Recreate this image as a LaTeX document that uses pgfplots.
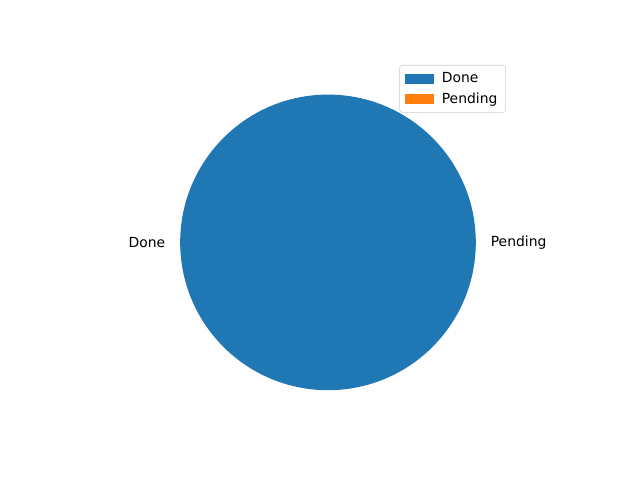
\documentclass[border=0pt]{standalone}
\usepackage{pgfplots}
\pgfplotsset{compat=1.18}
\usepackage{pgfplotstable}
\usepackage{fontspec}
\setmainfont{DejaVu Sans}
\definecolor{tabblue}{HTML}{1F77B4}
\definecolor{taborange}{HTML}{FF7F0E}
\definecolor{legframe}{HTML}{CCCCCC}

\pgfplotstableread{
label value
Done 100
Pending 0
}\piedata
% compute wedge angles from the data
\pgfplotstablegetelem{0}{value}\of\piedata\pgfmathsetmacro{\vA}{\pgfplotsretval}%
\pgfplotstablegetelem{1}{value}\of\piedata\pgfmathsetmacro{\vB}{\pgfplotsretval}%
\pgfmathsetmacro{\tot}{\vA+\vB}%
\pgfmathsetmacro{\fracA}{\vA/\tot}%
\pgfmathsetmacro{\angA}{360*\fracA}%

\begin{document}
\begin{tikzpicture}[font=\fontsize{10}{12}\selectfont]
\useasboundingbox (0,0) rectangle (460.8pt,345.6pt);
\begin{axis}[
  at={(0,0)}, anchor=south west,
  scale only axis, width=460.8pt, height=345.6pt,
  hide axis, clip=false,
  xmin=-2.2192, xmax=2.1110,
  ymin=-1.6076, ymax=1.6400,
  legend style={at={(0.7906,0.8646)}, anchor=north east,
    draw=legframe, rounded corners=2pt, fill=white, fill opacity=0.8, text opacity=1,
    font=\fontsize{10}{12}\selectfont, inner xsep=4pt, inner ysep=3.3pt,
    row sep=1.5pt},
  legend cell align=left,
]
\addlegendimage{legend image code/.code={\fill[tabblue, fill opacity=1, sharp corners] (0pt,-3.5pt) rectangle (20pt,3.5pt); \path (24pt,0pt);}}
\addlegendentry{Done}
\addlegendimage{legend image code/.code={\fill[taborange, fill opacity=1, sharp corners] (0pt,-3.5pt) rectangle (20pt,3.5pt); \path (24pt,0pt);}}
\addlegendentry{Pending}
\fill[tabblue] (axis cs:0,0) -- (axis cs:1,0) arc[start angle=0, end angle=\angA, radius=106.42pt] -- cycle;
\node[anchor=east, inner sep=0pt] at (axis cs:-1.1,0) {Done};
\node[anchor=west, inner sep=0pt] at (axis cs:1.1,0) {Pending};
\end{axis}
\end{tikzpicture}
\end{document}
